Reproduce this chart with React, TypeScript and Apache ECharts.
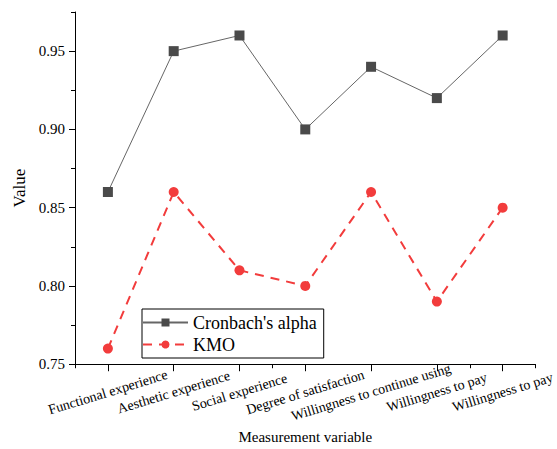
import React, { useEffect, useRef } from "react";
import * as echarts from "echarts";

const categories = [
  "Functional experience",
  "Aesthetic experience",
  "Social experience",
  "Degree of satisfaction",
  "Willingness to continue using",
  "Willingness to pay",
  "Willingness to pay",
];
const cronbachAlpha = [0.86, 0.95, 0.96, 0.9, 0.94, 0.92, 0.96];
const kmo = [0.76, 0.86, 0.81, 0.8, 0.86, 0.79, 0.85];
const yMajorTicks = [0.75, 0.8, 0.85, 0.9, 0.95];
const yMinorTicks = [0.775, 0.825, 0.875, 0.925, 0.975];

const FONT = "serif";

export default function App() {
  const ref = useRef<HTMLDivElement>(null);
  useEffect(() => {
    if (!ref.current) return;
    const chart = echarts.init(ref.current, null, { renderer: "svg" });
    const axisColor = "#000";
    chart.setOption({
      animation: false,
      backgroundColor: "#fff",
      textStyle: { fontFamily: FONT },
      grid: { left: 75, top: 12, right: 14.5, bottom: 82, containLabel: false },
      legend: {
        orient: "vertical",
        left: 142,
        top: 309,
        padding: [4.5, 7, 4.5, 0],
        borderColor: "#000",
        borderWidth: 1,
        itemWidth: 45,
        itemHeight: 10,
        itemGap: 4,
        textStyle: { fontFamily: FONT, fontSize: 18, color: "#000", lineHeight: 17 },
        data: ["Cronbach's alpha", "KMO"],
      },
      xAxis: [
        {
          type: "category",
          data: categories,
          boundaryGap: true,
          name: "Measurement variable",
          nameLocation: "middle",
          nameGap: 64,
          nameTextStyle: { fontFamily: FONT, fontSize: 15, color: "#000" },
          axisLine: { show: true, lineStyle: { color: axisColor, width: 1 } },
          axisTick: { show: true, alignWithLabel: true, length: 7, lineStyle: { color: axisColor } },
          axisLabel: {
            interval: 0,
            rotate: 17,
            align: "center",
            verticalAlign: "middle",
            margin: 28,
            fontFamily: FONT,
            fontSize: 14,
            color: "#000",
          },
          splitLine: { show: false },
        },
        {
          type: "category",
          data: categories,
          boundaryGap: true,
          position: "bottom",
          axisLine: { show: false },
          axisTick: { show: true, alignWithLabel: false, length: 4, lineStyle: { color: axisColor } },
          axisLabel: { show: false },
          splitLine: { show: false },
        },
      ],
      yAxis: [
        {
          type: "value",
          min: 0.75,
          max: 0.975,
          name: "Value",
          nameLocation: "middle",
          nameGap: 45,
          nameTextStyle: { fontFamily: FONT, fontSize: 17, color: "#000" },
          axisLine: { show: true, lineStyle: { color: axisColor, width: 1 } },
          axisTick: { show: true, length: 6, customValues: yMajorTicks, lineStyle: { color: axisColor } },
          axisLabel: {
            customValues: yMajorTicks,
            margin: 10,
            fontFamily: FONT,
            fontSize: 15,
            color: "#000",
            formatter: (v: number) => v.toFixed(2),
          },
          splitLine: { show: false },
        },
        {
          type: "value",
          min: 0.75,
          max: 0.975,
          position: "left",
          axisLine: { show: false },
          axisTick: { show: true, length: 4, customValues: yMinorTicks, lineStyle: { color: axisColor } },
          axisLabel: { show: false },
          splitLine: { show: false },
        },
      ],
      series: [
        {
          name: "Cronbach's alpha",
          type: "line",
          data: cronbachAlpha,
          xAxisIndex: 0,
          yAxisIndex: 0,
          symbol: "rect",
          symbolSize: 10,
          itemStyle: { color: "#4a4a4a" },
          lineStyle: { color: "#666", width: 1 },
        },
        {
          name: "KMO",
          type: "line",
          data: kmo,
          xAxisIndex: 0,
          yAxisIndex: 0,
          symbol: "circle",
          symbolSize: 10,
          itemStyle: { color: "#f23c3c" },
          lineStyle: { color: "#f23c3c", width: 2, type: [9, 7] },
        },
      ],
    });
    return () => chart.dispose();
  }, []);
  return <div ref={ref} style={{ width: 557, height: 449, position: "absolute", left: 0, top: 0 }} />;
}
